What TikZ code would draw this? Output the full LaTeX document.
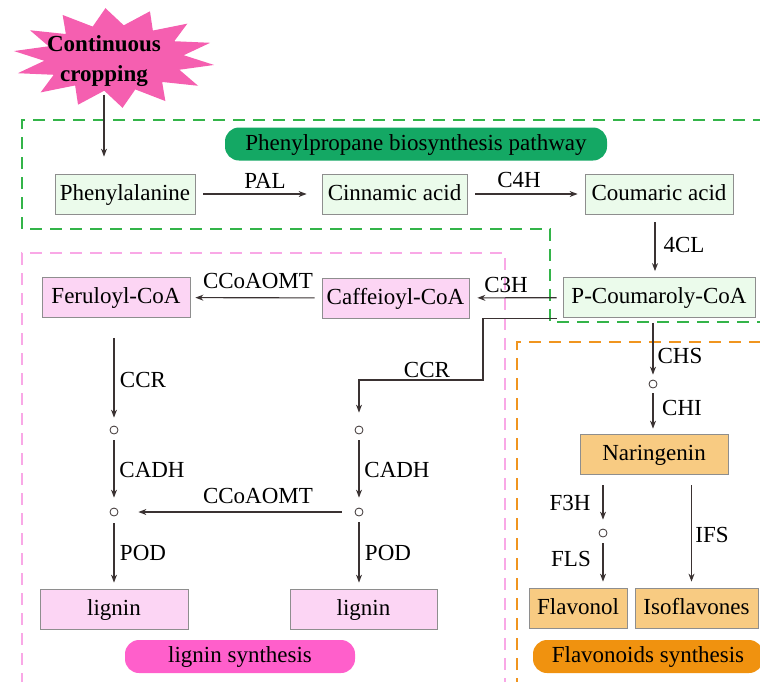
\documentclass[tikz,border=0pt]{standalone}
\usepackage{fontspec}
\setmainfont{Liberation Serif}
\usetikzlibrary{arrows.meta,calc}
\definecolor{arrowcol}{HTML}{3A3232}
\definecolor{boxgray}{HTML}{8E8E8E}
\definecolor{gfill}{HTML}{EBFBEB}
\definecolor{pfill}{HTML}{FCD5F4}
\definecolor{ofill}{HTML}{F8CB82}
\definecolor{glabel}{HTML}{14A864}
\definecolor{plabel}{HTML}{FF5FCB}
\definecolor{olabel}{HTML}{F0920F}
\definecolor{gdash}{HTML}{33B449}
\definecolor{pdash}{HTML}{F9A8E6}
\definecolor{odash}{HTML}{F0951F}
\definecolor{burst}{HTML}{F55FB0}
\begin{document}
\begin{tikzpicture}[x=1pt,y=-1pt,
  txt/.style={font=\fontsize{23}{28}\selectfont},
  box/.style={txt, draw=boxgray, line width=0.8pt, minimum height=40pt, inner sep=0pt, text height=16pt, text depth=4pt},
  gbox/.style={box, fill=gfill},
  pbox/.style={box, fill=pfill},
  obox/.style={box, fill=ofill},
  lbl/.style={txt, inner sep=0pt},
  pill/.style={txt, rounded corners=14pt, minimum height=33pt, inner sep=0pt, text height=16pt, text depth=4pt},
  arr/.style={draw=arrowcol, line width=1.1pt, -{Stealth[length=8pt,width=6pt]}},
  circ/.style={circle, draw=arrowcol, line width=0.8pt, minimum size=8pt, inner sep=0pt},
  dashbox/.style={line width=1.8pt, dash pattern=on 12pt off 8pt}
]
\useasboundingbox (0,0) rectangle (760,681);

% dashed regions
\draw[dashbox, draw=gdash] (765,120) -- (22,120) -- (22,229) -- (550,229) -- (550,322) -- (765,322);
\draw[dashbox, draw=pdash] (505,690) -- (505,253) -- (22,253) -- (22,690);
\draw[dashbox, draw=odash] (517,690) -- (517,342) -- (765,342);

% starburst
\fill[burst] plot[samples=29, domain=0:28, variable=\k]
  ({114+(mod(\k,2)==0 ? 101 : 70)*cos(\k*360/28+8)}, {58+(mod(\k,2)==0 ? 50 : 33)*sin(\k*360/28+8)}) -- cycle;
\node[txt, font=\fontsize{23}{30}\bfseries, align=center, inner sep=3pt] (cc) at (104,61) {Continuous\\cropping};

% labels (pills)
\node[pill, fill=glabel, minimum width=382pt] (gl) at (416,144) {Phenylpropane biosynthesis pathway};
\node[pill, fill=plabel, minimum width=230pt] (pl) at (240,656.5) {lignin synthesis};
\node[pill, fill=olabel, minimum width=230pt] (ol) at (648,656.5) {Flavonoids synthesis};

% boxes
\node[gbox, minimum width=140pt] (phe) at (125,194) {Phenylalanine};
\node[gbox, minimum width=145pt] (cin) at (394.5,194) {Cinnamic acid};
\node[gbox, minimum width=148pt] (cou) at (659,194) {Coumaric acid};
\node[gbox, minimum width=192pt] (pcoa) at (659,297.5) {P-Coumaroly-CoA};
\node[pbox, minimum width=147pt] (caf) at (395.5,298) {Caffeioyl-CoA};
\node[pbox, minimum width=148pt] (fer) at (116,297.5) {Feruloyl-CoA};
\node[pbox, minimum width=148pt] (lig1) at (114,609) {lignin};
\node[pbox, minimum width=147pt] (lig2) at (363.5,609) {lignin};
\node[obox, minimum width=148pt] (nar) at (654,454) {Naringenin};
\node[obox, minimum width=98pt] (flav) at (578,608) {Flavonol};
\node[obox, minimum width=123pt] (iso) at (696.5,608) {Isoflavones};

% intermediates
\node[circ] (c1) at (114,430) {};
\node[circ] (c2) at (359,430) {};
\node[circ] (c3) at (114,512) {};
\node[circ] (c4) at (359,512) {};
\node[circ] (c5) at (653,384) {};
\node[circ] (c6) at (603,533) {};

% arrows
\draw[arr, shorten <=5pt, shorten >=17pt] (cc.south) -- (cc.south |- phe.north);
\draw[arr, shorten <=8pt, shorten >=15pt] (phe) -- (cin);
\draw[arr, shorten <=8pt, shorten >=7pt] (cin) -- (cou);
\draw[arr, shorten <=8pt, shorten >=6pt] ([xshift=-4pt]cou.south) -- ([xshift=-4pt]pcoa.north);
\draw[arr, shorten <=6pt, shorten >=8pt] (pcoa) -- (caf);
\draw[arr, shorten <=7pt, shorten >=5pt] (caf) -- (fer);
\draw[arr, shorten <=20pt, shorten >=8pt] (fer.south -| c1) -- (c1);
\draw[arr, shorten <=6pt, shorten >=10pt] (c1) -- (c3);
\draw[arr, shorten <=7pt, shorten >=6pt] (c3) -- (c3 |- lig1.north);
\coordinate (k0) at ([xshift=-6pt,yshift=-1pt]pcoa.south west);
\coordinate (k1) at (483,380);
\draw[arr, shorten >=13pt] (k0) -| (k1) -| (c2);
\draw[arr, shorten <=6pt, shorten >=10pt] (c2) -- (c4);
\draw[arr, shorten <=6pt, shorten >=6pt] (c4) -- (c4 |- lig2.north);
\draw[arr, shorten <=13pt, shorten >=20pt] (c4) -- (c3);
\draw[arr, shorten <=5pt, shorten >=5pt] (c5 |- pcoa.south) -- (c5);
\draw[arr, shorten <=5pt, shorten >=5pt] (c5) -- (c5 |- nar.north);
\draw[arr, shorten <=11pt, shorten >=9pt] (c6 |- nar.south) -- (c6);
\draw[arr, shorten <=6pt, shorten >=6pt] (c6) -- (c6 |- flav.north);
\coordinate (ifsEnd) at ([xshift=-5pt]iso.north);
\draw[arr, shorten <=11pt, shorten >=6pt] (ifsEnd |- nar.south) -- (ifsEnd);

% enzyme labels
\node[lbl] (lPAL) at (265,181) {PAL};
\node[lbl] (lC4H) at (519,180) {C4H};
\node[lbl] (l4CL) at (684,245) {4CL};
\node[lbl] (lC3H) at (506,285) {C3H};
\node[lbl] (lCC1) at (258,281) {CCoAOMT};
\node[lbl] (lCCR1) at (143,380) {CCR};
\node[lbl] (lCCR2) at (427,370) {CCR};
\node[lbl] (lCA1) at (152,470) {CADH};
\node[lbl] (lCA2) at (397,470) {CADH};
\node[lbl] (lCC2) at (258,496) {CCoAOMT};
\node[lbl] (lPOD1) at (143,553) {POD};
\node[lbl] (lPOD2) at (388,553) {POD};
\node[lbl] (lCHS) at (680,356) {CHS};
\node[lbl] (lCHI) at (682,408) {CHI};
\node[lbl] (lF3H) at (570,503) {F3H};
\node[lbl] (lFLS) at (571,559) {FLS};
\node[lbl] (lIFS) at (712,535) {IFS};
\end{tikzpicture}
\end{document}
